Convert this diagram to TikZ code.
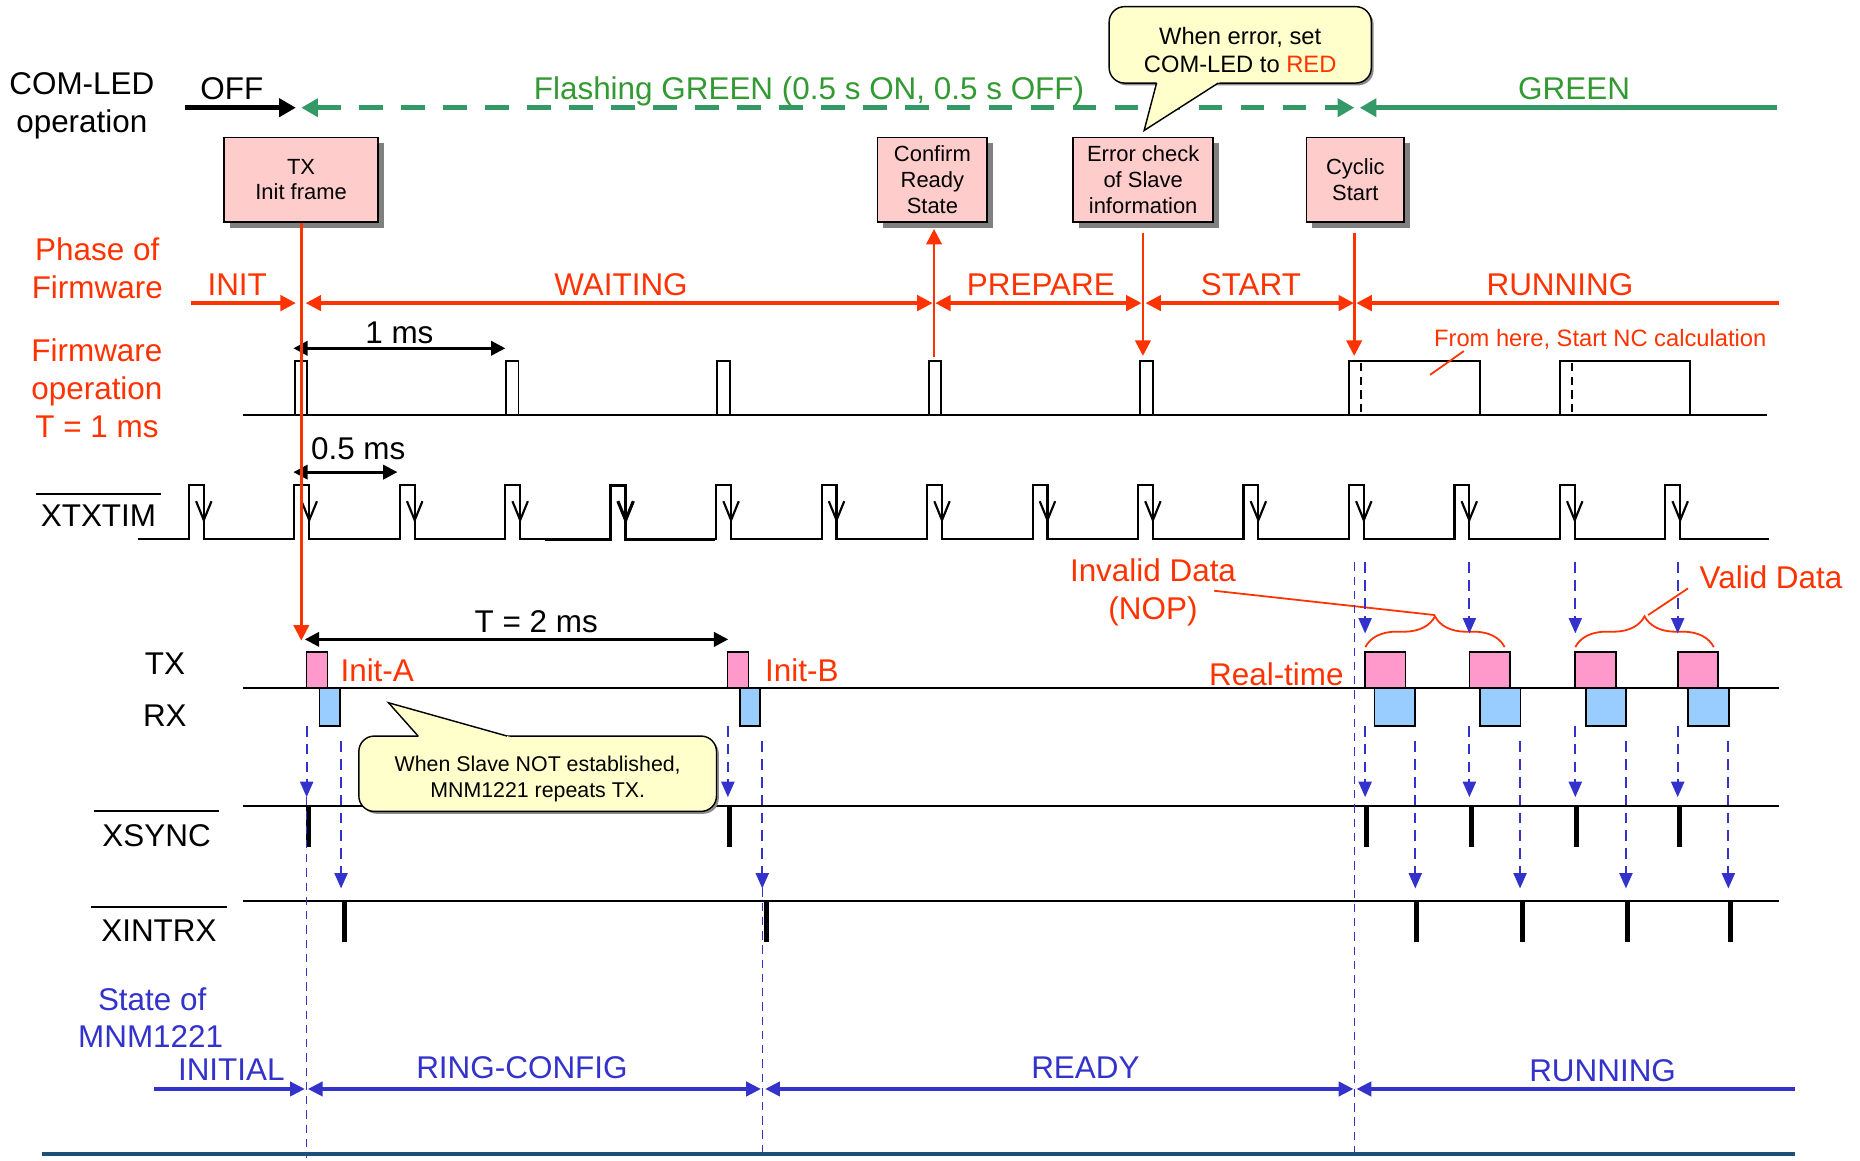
\documentclass[tikz,border=0pt]{standalone}
\usepackage{fontspec}
\setmainfont{Liberation Sans}
\usetikzlibrary{arrows.meta,decorations.pathreplacing,shadows}

\definecolor{fwred}{HTML}{FF3300}
\definecolor{stblue}{HTML}{3333CC}
\definecolor{ledgreen}{HTML}{339966}
\definecolor{ledtext}{HTML}{339933}
\definecolor{boxpink}{HTML}{FFCCCC}
\definecolor{txpink}{HTML}{FF99CC}
\definecolor{rxblue}{HTML}{99CCFF}
\definecolor{noteyellow}{HTML}{FFFFCC}
\definecolor{rulenavy}{HTML}{1F4E79}

\tikzset{
  rtip/.tip={Triangle[length=13pt,width=13pt]},
  btip/.tip={Triangle[length=12.5pt,width=12pt]},
  gtip/.tip={Triangle[length=14pt,width=15pt]},
  dtip/.tip={Triangle[length=12pt,width=12pt]},
  stip/.tip={Triangle[length=13pt,width=11pt]},
  lblbig/.style={font=\fontsize{26.5}{32}\selectfont, inner sep=0pt, anchor=base},
  lblmid/.style={font=\fontsize{20}{24}\selectfont, inner sep=0pt, anchor=base},
  lblsmall/.style={font=\fontsize{18}{21.5}\selectfont, inner sep=0pt, anchor=base},
  actbox/.style={draw=black, line width=1.6pt, fill=boxpink, inner sep=0pt,
    font=\fontsize{18.5}{21.8}\selectfont, align=center, minimum height=71pt,
    drop shadow={shadow xshift=5pt, shadow yshift=-5pt, fill=black!50, opacity=1}},
  sigwave/.style={black, line width=1.8pt},
  fwwave/.style={black, line width=1.6pt},
  phaseline/.style={fwred, line width=2.8pt},
  redv/.style={fwred, line width=2.2pt},
  stateline/.style={stblue, line width=2.8pt},
  dimarrow/.style={black, line width=2.5pt, dtip-dtip},
  sigarrow/.style={stblue, line width=1.7pt, dash pattern=on 9pt off 6pt, -stip},
  guideline/.style={stblue, line width=1.2pt, dash pattern=on 7pt off 5pt},
  pulse/.style={black, line width=4.2pt},
  txbox/.style={draw=black, line width=1.5pt, fill=txpink},
  rxbox/.style={draw=black, line width=1.5pt, fill=rxblue},
  notebox/.style={draw=black, line width=1.2pt, fill=noteyellow, rounded corners=13pt,
    drop shadow={shadow xshift=2pt, shadow yshift=-2pt, fill=black!45, opacity=1}},
  bracestyle/.style={fwred, line width=1.5pt, decorate, decoration={brace, amplitude=26pt}},
}

\begin{document}
\begin{tikzpicture}[x=1pt, y=-1pt]
\useasboundingbox[fill=white] (0,0) rectangle (1568,978);

% ---------------- COM-LED operation ----------------
\node[lblbig] (ledA) at (69,79.5) {COM-LED};
\node[lblbig] (ledB) at (69,111.5) {operation};
\node[lblbig] (off) at (195.5,83.5) {OFF};
\coordinate (offS) at (155.7,90.8);
\coordinate (offE) at (249.4,90.8);
\coordinate (flS) at (254,90.8);
\coordinate (flE) at (1141.7,90.8);
\coordinate (onS) at (1146.3,90.8);
\coordinate (onE) at (1498,90.8);
\draw[black, line width=4.5pt, -gtip] (offS) -- (offE);
\draw[ledgreen, line width=4.5pt, dash pattern=on 20pt off 15.4pt, gtip-gtip] (flS) -- (flE);
\draw[ledgreen, line width=4.5pt, gtip-] (onS) -- (onE);
\node[lblbig, text=ledtext] (flash) at (682,83.5) {Flashing GREEN (0.5 s ON, 0.5 s OFF)};
\node[lblbig, text=ledtext] (green) at (1327,83.5) {GREEN};

% ---------------- Phase of Firmware ----------------
\node[lblbig, text=fwred] (phA) at (82,219.8) {Phase of};
\node[lblbig, text=fwred] (phB) at (82,252) {Firmware};
\coordinate (p0) at (161,255.5);
\coordinate (p1a) at (249.4,255.5);
\coordinate (p1b) at (257.7,255.5);
\coordinate (p2a) at (786.2,255.5);
\coordinate (p2b) at (788.4,255.5);
\coordinate (p3a) at (962.3,255.5);
\coordinate (p3b) at (965.7,255.5);
\coordinate (p4a) at (1141.4,255.5);
\coordinate (p4b) at (1143.4,255.5);
\coordinate (p5) at (1500,255.5);
\draw[phaseline, -rtip] (p0) -- (p1a);
\draw[phaseline, rtip-rtip] (p1b) -- (p2a);
\draw[phaseline, rtip-rtip] (p2b) -- (p3a);
\draw[phaseline, rtip-rtip] (p3b) -- (p4a);
\draw[phaseline, rtip-] (p4b) -- (p5);
\node[lblbig, text=fwred] (phINIT) at (200,248.8) {INIT};
\node[lblbig, text=fwred] (phWAIT) at (523.5,248.8) {WAITING};
\node[lblbig, text=fwred] (phPREP) at (877.5,249.3) {PREPARE};
\node[lblbig, text=fwred] (phSTART) at (1054.5,249.3) {START};
\node[lblbig, text=fwred] (phRUN) at (1315,249.3) {RUNNING};

% ---------------- Firmware operation ----------------
\node[lblbig, text=fwred] (fwA) at (81.7,304.4) {Firmware};
\node[lblbig, text=fwred] (fwB) at (81.7,336.5) {operation};
\node[lblbig, text=fwred] (fwC) at (81.7,368.6) {T = 1 ms};
\draw[fwwave] (205,349.5) -- (1490,349.5);
\foreach \j in {0,...,4}{
  \pgfmathsetmacro\fx{248.4+178.2*\j}
  \draw[fwwave, fill=white] (\fx,349.5) rectangle ({\fx+10.5},304.5);
}
\foreach \bx in {1137.5,1315}{
  \draw[fwwave, fill=white] (\bx,349.5) rectangle ({\bx+110},304.5);
  \draw[black, line width=1.4pt, dash pattern=on 7pt off 4.5pt] ({\bx+10},306) -- ({\bx+10},349.5);
}
\coordinate (msA) at (247.3,293.6);
\coordinate (msB) at (426,293.6);
\draw[dimarrow] (msA) -- (msB);
\node[lblbig] (onems) at (336.7,289.5) {1 ms};
\node[lblmid, text=fwred] (ncnote) at (1349,292) {From here, Start NC calculation};
\coordinate (ncA) at (1234,296);
\coordinate (ncB) at (1205.5,316);
\draw[fwred, line width=1.5pt] (ncA) -- (ncB);

% ---------------- XTXTIM ----------------
\node[lblbig] (xtx) at (83,444) {XTXTIM};
\draw[line width=1.5pt] (30,416.5) -- (135.5,416.5);
\draw[sigwave] (116,454.5) foreach \k in {0,...,14} {
    -- ({159.3+88.9*\k},454.5) -- ++(0,-45.5) -- ++(12.5,0) -- ++(0,45.5) } -- (1491,454.5);
\foreach \k in {0,...,14}{
  \pgfmathsetmacro\fx{159.3+88.9*\k+12.5}
  \draw[sigwave] ({\fx-6.5},422.5) -- (\fx,438.5) -- ({\fx+6.5},422.5);
}
% heavier trace around the fifth pulse
\draw[black, line width=2.6pt] (459.5,454.5) -- (514.9,454.5) -- (514.9,409) -- (527.4,409) -- (527.4,454.5) -- (603,454.5);
\draw[black, line width=2.6pt] (520.9,422.5) -- (527.4,438.5) -- (533.9,422.5);
\coordinate (hmA) at (247.3,398);
\coordinate (hmB) at (335,398);
\draw[dimarrow] (hmA) -- (hmB);
\node[lblbig] (halfms) at (302,387.5) {0.5 ms};

% ---------------- TX / RX ----------------
\node[lblbig] (txl) at (139,569) {TX};
\node[lblbig] (rxl) at (139,612.6) {RX};
\draw[sigwave] (205,580.3) -- (1500,580.3);
\draw[txbox] (258.4,549.4) rectangle (276,580.3);
\draw[rxbox] (269.3,580.3) rectangle (286.8,611.8);
\draw[txbox] (613.3,549.4) rectangle (631,580.3);
\draw[rxbox] (623.5,580.3) rectangle (641,611.8);
\node[lblbig, text=fwred] (initA) at (318,574.5) {Init-A};
\node[lblbig, text=fwred] (initB) at (676,574.5) {Init-B};
\coordinate (tA) at (257,539);
\coordinate (tB) at (613.9,539);
\draw[dimarrow] (tA) -- (tB);
\node[lblbig] (twoms) at (452,533) {T = 2 ms};
\foreach \tx/\rx in {1150.8/1158.7, 1238.7/1247.5, 1328/1336.7, 1414.3/1423}{
  \draw[txbox] (\tx,549.4) rectangle ({\tx+34},580.3);
  \draw[rxbox] (\rx,580.3) rectangle ({\rx+34.3},611.8);
}
\node[lblbig, text=fwred] (rtime) at (1076,577.5) {Real-time};

% data braces
\draw[bracestyle] (1151,545.5) -- (1268.4,545.5);
\draw[bracestyle] (1328,545.5) -- (1444.7,545.5);
\node[lblbig, text=fwred] (invA) at (972,490.5) {Invalid Data};
\node[lblbig, text=fwred] (invB) at (972,522.5) {(NOP)};
\node[lblbig, text=fwred] (valid) at (1493,496) {Valid Data};
\coordinate (invP) at (1023.6,498);
\coordinate (invT) at (1209.6,518.5);
\coordinate (valP) at (1423,496);
\coordinate (valT) at (1389.4,518.5);
\draw[fwred, line width=1.5pt] (invP) -- (invT);
\draw[fwred, line width=1.5pt] (valP) -- (valT);

% ---------------- XSYNC / XINTRX ----------------
\node[lblbig] (xsync) at (132,714) {XSYNC};
\draw[line width=1.5pt] (79,683.7) -- (185,683.7);
\node[lblbig] (xintrx) at (134,794) {XINTRX};
\draw[line width=1.5pt] (76.5,764.4) -- (191.5,764.4);
\draw[sigwave] (205,679.7) -- (1500,679.7);
\draw[sigwave] (205,759.5) -- (1500,759.5);
\foreach \x in {260,615,1151.6,1240.5,1329.4,1415.5}{
  \draw[pulse] (\x,679.7) -- (\x,714);
}
\foreach \x in {290,646,1194.3,1283.2,1372,1459.1}{
  \draw[pulse] (\x,759.5) -- (\x,794);
}

% signal propagation arrows
\draw[guideline] (258.5,672) -- (258.5,976);
\draw[guideline] (642.6,749) -- (642.6,976);
\draw[guideline] (1142,474) -- (1142,976);
\foreach \x in {258.5,613.6}{
  \draw[sigarrow] (\x,612) -- (\x,672);
}
\foreach \x in {287.5,642.6}{
  \draw[sigarrow] (\x,625) -- (\x,749);
}
\foreach \x in {1150.8,1238.7,1328,1414.3}{
  \draw[sigarrow] (\x,474) -- (\x,534);
  \draw[sigarrow] (\x,612) -- (\x,672);
}
\foreach \x in {1193.1,1281.4,1370.7,1457}{
  \draw[sigarrow] (\x,625) -- (\x,749);
}

% ---------------- State of MNM1221 ----------------
\node[lblbig, text=stblue] (stA) at (128.3,851.5) {State of};
\node[lblbig, text=stblue] (stB) at (127,883) {MNM1221};
\coordinate (s0) at (130,918);
\coordinate (s1a) at (257,918);
\coordinate (s1b) at (259.5,918);
\coordinate (s2a) at (641.5,918);
\coordinate (s2b) at (645,918);
\coordinate (s3a) at (1141,918);
\coordinate (s3b) at (1143.5,918);
\coordinate (s4) at (1513,918);
\draw[stateline, -btip] (s0) -- (s1a);
\draw[stateline, btip-btip] (s1b) -- (s2a);
\draw[stateline, btip-btip] (s2b) -- (s3a);
\draw[stateline, btip-] (s3b) -- (s4);
\node[lblbig, text=stblue] (stINIT) at (195,910.5) {INITIAL};
\node[lblbig, text=stblue] (stRING) at (440,909) {RING-CONFIG};
\node[lblbig, text=stblue] (stREADY) at (915,909.5) {READY};
\node[lblbig, text=stblue] (stRUN) at (1351,911.5) {RUNNING};

\draw[rulenavy, line width=3pt] (35,973) -- (1513,973);

% ---------------- firmware action boxes ----------------
\node[actbox, minimum width=129.5pt] (txinit) at (253.8,151.4) {TX\\Init frame};
\node[actbox, minimum width=92.5pt] (confirm) at (786,151.4) {Confirm\\Ready\\State};
\node[actbox, minimum width=118pt] (errchk) at (963.7,151.4) {Error check\\of Slave\\information};
\node[actbox, minimum width=82.5pt] (cyclic) at (1142.6,151.4) {Cyclic\\Start};

\coordinate (txTip) at (254,540);
\coordinate (cfFrom) at (787.4,301);
\coordinate (cfTip) at (787.4,193);
\coordinate (ecFrom) at (963.5,196.7);
\coordinate (ecTip) at (963.5,300);
\coordinate (csFrom) at (1141.6,196.7);
\coordinate (csTip) at (1141.6,300);
\draw[redv, -rtip] (txinit.south -| txTip) -- (txTip);
\draw[redv, -rtip] (cfFrom) -- (cfTip);
\draw[redv, -rtip] (ecFrom) -- (ecTip);
\draw[redv, -rtip] (csFrom) -- (csTip);

% ---------------- notes ----------------
\draw[notebox] (935,5.6) rectangle (1156,70);
\fill[noteyellow] (976.05,66) -- (964.5,110) -- (1033.25,66) -- cycle;
\draw[black, line width=1.2pt, line join=miter] (975,70) -- (964.5,110) -- (1027,70);
\node[lblmid] (errA) at (1045.5,37.5) {When error, set};
\node[lblmid] (errB) at (1045.5,61.5) {COM-LED to \textcolor{fwred}{RED}};

\draw[notebox] (302.5,620.5) rectangle (604,684);
\fill[noteyellow] (355.2,623.5) -- (327.5,592.4) -- (438.2,623.5) -- cycle;
\draw[black, line width=1.2pt, line join=miter] (352.5,620.5) -- (327.5,592.4) -- (427.5,620.5);
\node[lblsmall] (slvA) at (453.3,650.5) {When Slave NOT established,};
\node[lblsmall] (slvB) at (453.3,672) {MNM1221 repeats TX.};

\end{tikzpicture}
\end{document}
